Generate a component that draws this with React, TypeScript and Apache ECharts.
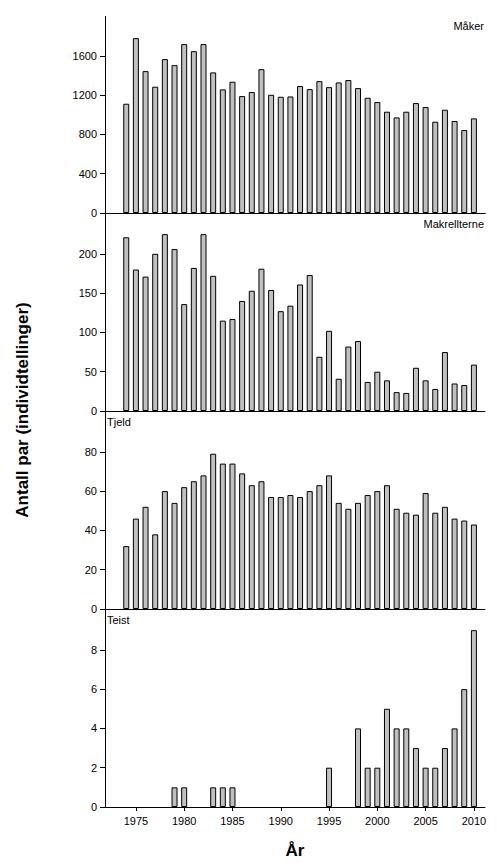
import React, { useEffect, useRef } from "react";
import * as echarts from "echarts";

const years = Array.from({ length: 37 }, (_, i) => 1974 + i);
const maker = [1112,1780,1444,1285,1566,1505,1719,1647,1719,1431,1258,1336,1190,1231,1464,1203,1183,1186,1292,1261,1342,1281,1329,1353,1271,1173,1129,1031,973,1031,1119,1078,929,1051,936,844,963];
const makrell = [221,180,171,200,225,206,136,182,225,172,115,117,140,153,181,154,127,134,161,173,69,102,41,82,89,37,50,39,24,23,55,39,28,75,35,33,59];
const tjeld = [32,46,52,38,60,54,62,65,68,79,74,74,69,63,65,57,57,58,57,60,63,68,54,51,54,58,60,63,51,49,48,59,49,52,46,45,43];
const teist = [0,0,0,0,0,1,1,0,0,1,1,1,0,0,0,0,0,0,0,0,0,2,0,0,4,2,2,5,4,4,3,2,2,3,4,6,9];
const xTicks = [1975,1980,1985,1990,1995,2000,2005,2010];

const panels = [
  { name: "Måker", data: maker, max: 2000, interval: 400, bottom: 213, right: true },
  { name: "Makrellterne", data: makrell, max: 250, interval: 50, bottom: 411, right: true },
  { name: "Tjeld", data: tjeld, max: 100, interval: 20, bottom: 609, right: false },
  { name: "Teist", data: teist, max: 10, interval: 2, bottom: 807, right: false },
];

export default function App() {
  const ref = useRef<HTMLDivElement>(null);
  useEffect(() => {
    const chart = echarts.init(ref.current!, null, { renderer: "svg" });
    const H = 196.5;
    const font = "Liberation Sans, Arial, sans-serif";
    const grids: any[] = [], xAxes: any[] = [], yAxes: any[] = [], series: any[] = [];
    panels.forEach((p, i) => {
      grids.push({ left: 105, width: 380, top: p.bottom - H, height: H });
      const last = i === panels.length - 1;
      xAxes.push({
        type: "value", gridIndex: i, min: 1971.8, max: 2011.15,
        axisLine: { show: true, onZero: false, lineStyle: { color: "#000" } },
        axisTick: { show: last, customValues: xTicks, length: 4, lineStyle: { color: "#000" } },
        axisLabel: { show: last, customValues: xTicks, color: "#000", fontSize: 11, fontFamily: font, margin: 8, formatter: (v: number) => String(v) },
        splitLine: { show: false },
      });
      yAxes.push({
        type: "value", gridIndex: i, min: 0, max: p.max, interval: p.interval,
        axisLine: { show: true, lineStyle: { color: "#000" } },
        axisTick: { show: true, length: 5, lineStyle: { color: "#000" } },
        axisLabel: { color: "#000", fontSize: 11, fontFamily: font, showMaxLabel: false, margin: 8, formatter: (v: number) => String(v) },
        splitLine: { show: false },
      });
      series.push({
        type: "bar", xAxisIndex: i, yAxisIndex: i, barWidth: 6,
        data: years.map((y, k) => [y, p.data[k] === 0 ? null : p.data[k]]),
        itemStyle: { color: "#c0c0c0", borderColor: "#000", borderWidth: 1 },
      });
    });
    xAxes.push({
      type: "value", gridIndex: 0, position: "top", min: 1971.8, max: 2011.15,
      axisLine: { show: true, lineStyle: { color: "#000" } },
      axisTick: { show: false }, axisLabel: { show: false }, splitLine: { show: false },
    });
    const graphic: any[] = panels.map((p) => ({
      type: "text",
      left: p.right ? undefined : 107,
      right: p.right ? 13 : undefined,
      top: p.bottom - H + 4,
      style: { text: p.name, font: `11px ${font}`, fill: "#000" },
    }));
    graphic.push({
      type: "text", x: 22, y: 410, rotation: Math.PI / 2,
      style: { text: "Antall par (individtellinger)", font: `bold 17px ${font}`, fill: "#000", align: "center", verticalAlign: "middle" },
    });
    graphic.push({
      type: "text", x: 295, y: 850,
      style: { text: "År", font: `bold 17px ${font}`, fill: "#000", align: "center", verticalAlign: "middle" },
    });
    chart.setOption({ animation: false, grid: grids, xAxis: xAxes, yAxis: yAxes, series, graphic });
    return () => chart.dispose();
  }, []);
  return <div ref={ref} style={{ position: "absolute", left: 0, top: 0, width: 497, height: 866, background: "#fff" }} />;
}
